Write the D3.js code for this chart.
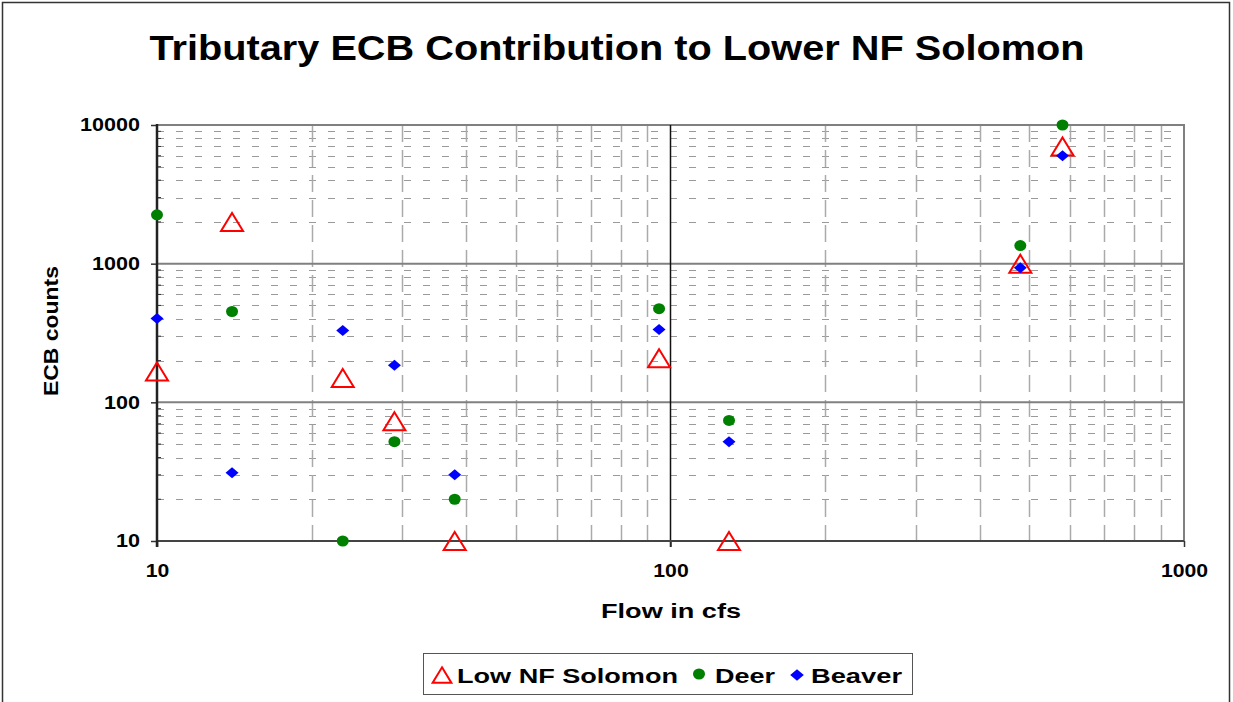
<!DOCTYPE html>
<meta charset="utf-8">
<style>
  body { margin: 0; background: #fff; }
  text { font-family: "Liberation Sans", Arial, sans-serif; font-weight: bold; fill: #000; }
</style>
<body>
<div class="chart"></div>
<script src="https://d3js.org/d3.v7.min.js"></script>
<script>
    // flow (cfs) shared by all three series
    const flow = [10, 14, 23, 29, 38, 95, 130, 480, 580];
    const lowNF = [167, 2000, 150, 73, 10, 208, 10, 1000, 7000];
    const deer = [2250, 452, 10, 52, 20, 474, 74, 1350, 10000];
    const beaver = [402, 31, 330, 185, 30, 335, 52, 935, 6000];
    const xTicks = [10, 100, 1000];
    const yTicks = [10, 100, 1000, 10000];
    const seriesNames = ["Low NF Solomon", "Deer", "Beaver"];

    let width = 1233, height = 702;
    let margin = {top: 125, right: 49, bottom: 161, left: 157};

    let svg = d3.select(".chart").append("svg")
        .attr("width", width)
        .attr("height", height);

    // outer chart frame
    svg.append("rect")
        .attr("x", 2.5).attr("y", 2.5)
        .attr("width", 1227).attr("height", 720)
        .attr("fill", "#fff").attr("stroke", "#333").attr("stroke-width", 1.5);

    let x = d3.scaleLog().domain([10, 1000]).range([margin.left, width - margin.right]);
    let y = d3.scaleLog().domain([10, 10000]).range([height - margin.bottom, margin.top]);

    let grid = svg.append("g");

    // minor gridlines
    let minorX = [], minorY = [];
    [10, 100].forEach(d => { for (let k = 2; k <= 9; k++) minorX.push(d * k); });
    [10, 100, 1000].forEach(d => { for (let k = 2; k <= 9; k++) minorY.push(d * k); });

    grid.selectAll(".hminor").data(minorY).join("line")
        .attr("x1", x(10)).attr("x2", x(1000))
        .attr("y1", d => Math.round(y(d)) + 0.5).attr("y2", d => Math.round(y(d)) + 0.5)
        .attr("stroke", "#9a9a9a").attr("stroke-width", 1)
        .attr("stroke-dasharray", "7,12");

    grid.selectAll(".vminor").data(minorX).join("line")
        .attr("x1", d => Math.round(x(d)) + 0.5).attr("x2", d => Math.round(x(d)) + 0.5)
        .attr("y1", y(10000)).attr("y2", y(10))
        .attr("stroke", "#aaa").attr("stroke-width", 1.5)
        .attr("stroke-dasharray", "17,8");

    // major gridlines
    grid.selectAll(".hmajor").data(yTicks.slice(1)).join("line")
        .attr("x1", x(10)).attr("x2", x(1000))
        .attr("y1", d => y(d)).attr("y2", d => y(d))
        .attr("stroke", "#808080").attr("stroke-width", 2);

    grid.append("line")
        .attr("x1", x(1000)).attr("x2", x(1000))
        .attr("y1", y(10000) - 1).attr("y2", y(10))
        .attr("stroke", "#808080").attr("stroke-width", 2);

    grid.append("line")
        .attr("x1", x(100)).attr("x2", x(100))
        .attr("y1", y(10000)).attr("y2", y(10) + 6)
        .attr("stroke", "#111").attr("stroke-width", 1.5);

    // axes
    let yAxis = d3.axisLeft(y).tickValues(yTicks).tickFormat(d3.format("d")).tickSize(6).tickPadding(11);
    let gy = svg.append("g").attr("transform", `translate(${x(10)},0)`).call(yAxis);
    gy.select(".domain").remove();
    gy.selectAll(".tick line").attr("stroke", "#333").attr("stroke-width", 1.5);
    gy.selectAll("text").attr("font-size", 18)
        .attr("textLength", d => String(d).length * 12).attr("lengthAdjust", "spacingAndGlyphs");

    let xAxis = d3.axisBottom(x).tickValues(xTicks).tickFormat(d3.format("d")).tickSize(6).tickPadding(17);
    let gx = svg.append("g").attr("transform", `translate(0,${y(10)})`).call(xAxis);
    gx.select(".domain").remove();
    gx.selectAll(".tick line").attr("stroke", "#333").attr("stroke-width", 1.5);
    gx.selectAll("text").attr("font-size", 18)
        .attr("textLength", d => String(d).length * 11.8).attr("lengthAdjust", "spacingAndGlyphs");

    // minor ticks on the value axis
    svg.selectAll(".ytickminor").data(minorY).join("line")
        .attr("x1", x(10)).attr("x2", x(10) + 4)
        .attr("y1", d => y(d)).attr("y2", d => y(d))
        .attr("stroke", "#333").attr("stroke-width", 1);

    svg.append("line")
        .attr("x1", x(10)).attr("x2", x(1000))
        .attr("y1", y(10)).attr("y2", y(10))
        .attr("stroke", "#444").attr("stroke-width", 2);
    svg.append("line")
        .attr("x1", x(10)).attr("x2", x(10))
        .attr("y1", y(10000) - 1).attr("y2", y(10) + 6)
        .attr("stroke", "#222").attr("stroke-width", 2.5);

    // titles
    svg.append("text")
        .attr("x", 617).attr("y", 60)
        .attr("text-anchor", "middle")
        .attr("font-size", 35)
        .attr("textLength", 935).attr("lengthAdjust", "spacingAndGlyphs")
        .text("Tributary ECB Contribution to Lower NF Solomon");

    svg.append("text")
        .attr("x", 671).attr("y", 618)
        .attr("text-anchor", "middle")
        .attr("font-size", 20)
        .attr("textLength", 140).attr("lengthAdjust", "spacingAndGlyphs")
        .text("Flow in cfs");

    svg.append("text")
        .attr("transform", "translate(58,331) rotate(-90)")
        .attr("text-anchor", "middle")
        .attr("font-size", 20)
        .attr("textLength", 130).attr("lengthAdjust", "spacingAndGlyphs")
        .text("ECB counts");

    // marker shapes
    const triangle = s => `M0,${-9 * s}L${11 * s},${9 * s}L${-11 * s},${9 * s}Z`;
    const diamond = s => `M0,${-5.5 * s}L${6.5 * s},0L0,${5.5 * s}L${-6.5 * s},0Z`;

    let marks = svg.append("g");

    marks.selectAll(".tri").data(flow.map((f, i) => [f, lowNF[i]])).join("path")
        .attr("transform", d => `translate(${x(d[0])},${y(d[1])})`)
        .attr("d", triangle(1))
        .attr("fill", "none").attr("stroke", "#ff0000").attr("stroke-width", 2);

    marks.selectAll(".dot").data(flow.map((f, i) => [f, deer[i]])).join("ellipse")
        .attr("cx", d => x(d[0])).attr("cy", d => y(d[1]))
        .attr("rx", 6).attr("ry", 5.5)
        .attr("fill", "#008000");

    marks.selectAll(".dia").data(flow.map((f, i) => [f, beaver[i]])).join("path")
        .attr("transform", d => `translate(${x(d[0])},${y(d[1])})`)
        .attr("d", diamond(1))
        .attr("fill", "#0000ff");

    // legend
    let legend = svg.append("g");
    legend.append("rect")
        .attr("x", 423.5).attr("y", 653.5)
        .attr("width", 489).attr("height", 41)
        .attr("fill", "#fff").attr("stroke", "#555").attr("stroke-width", 1);

    legend.append("path")
        .attr("transform", "translate(442,675)")
        .attr("d", triangle(0.85))
        .attr("fill", "none").attr("stroke", "#ff0000").attr("stroke-width", 2);
    legend.append("ellipse")
        .attr("cx", 699).attr("cy", 674).attr("rx", 6).attr("ry", 5.5)
        .attr("fill", "#008000");
    legend.append("path")
        .attr("transform", "translate(797,675)")
        .attr("d", diamond(1.05))
        .attr("fill", "#0000ff");

    const legendPos = [[457, 221], [715, 60], [811, 91]];
    legend.selectAll(".lt").data(seriesNames).join("text")
        .attr("x", (d, i) => legendPos[i][0]).attr("y", 683)
        .attr("font-size", 21)
        .attr("textLength", (d, i) => legendPos[i][1]).attr("lengthAdjust", "spacingAndGlyphs")
        .text(d => d);
</script>
</body>
